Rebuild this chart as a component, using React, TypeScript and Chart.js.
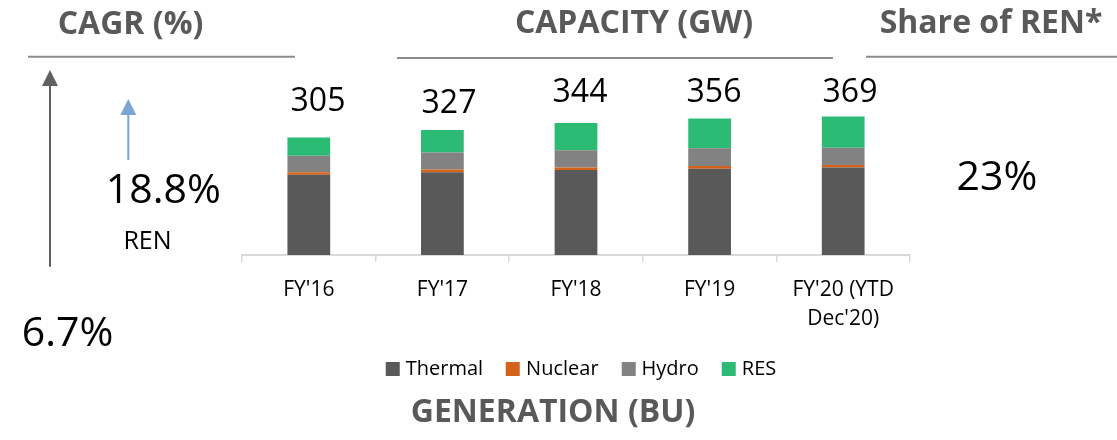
import React, { useEffect, useRef } from 'react';
import { Chart, registerables } from 'chart.js';

Chart.register(...registerables);

// ---- data ----
const categories: (string | string[])[] = ["FY'16", "FY'17", "FY'18", "FY'19", ["FY'20 (YTD", "Dec'20)"]];
const thermal = [208.8, 215.8, 221.3, 224.7, 227.9];
const nuclear = [6.8, 6.8, 6.8, 6.8, 6.8];
const hydro = [42.8, 44.4, 44.6, 46.5, 44.4];
const res = [47.8, 58.2, 71.0, 77.3, 81.7];
const totalLabels = ['305', '327', '344', '356', '369'];
const seriesNames = ['Thermal', 'Nuclear', 'Hydro', 'RES'];
const cagrTotal = '6.7%';
const cagrRen = '18.8%';
const renShare = '23%';

// ---- styles ----
const seriesColors = ['#595959', '#D5621A', '#828282', '#2BBB74'];
const FONT = '"Open Sans", "Noto Sans", sans-serif';
const labelPos = [
  { x: 318, y: 111 },
  { x: 449, y: 113 },
  { x: 580, y: 102 },
  { x: 714, y: 102 },
  { x: 850, y: 102 },
];

type TProps = { x: number; y: number; size: number; bold?: boolean; color?: string; align?: 'center' | 'left'; text: string };
const T = ({ x, y, size, bold, color = '#000', align = 'center', text }: TProps) => (
  <div
    style={{
      position: 'absolute',
      left: x,
      top: y - 0.888 * size,
      fontFamily: FONT,
      fontSize: size,
      fontWeight: bold ? 700 : 400,
      lineHeight: 1,
      color,
      whiteSpace: 'nowrap',
      transform: align === 'center' ? 'translateX(-50%)' : undefined,
    }}
  >
    {text}
  </div>
);

export default function App() {
  const ref = useRef<HTMLCanvasElement | null>(null);

  useEffect(() => {
    if (!ref.current) return;
    const series = [thermal, nuclear, hydro, res];
    const chart = new Chart(ref.current, {
      type: 'bar',
      data: {
        labels: categories as any,
        datasets: series.map((d, i) => ({
          label: seriesNames[i],
          data: d,
          backgroundColor: seriesColors[i],
          borderWidth: 0,
          barPercentage: 0.32,
          categoryPercentage: 1.0,
        })),
      },
      options: {
        animation: false,
        responsive: false,
        maintainAspectRatio: false,
        devicePixelRatio: 1,
        layout: { padding: { left: 242, right: 207, top: 63, bottom: 0 } },
        plugins: { legend: { display: false }, tooltip: { enabled: false } },
        scales: {
          x: {
            stacked: true,
            offset: true,
            grid: {
              display: true,
              drawOnChartArea: false,
              drawTicks: true,
              tickLength: 7,
              color: '#d9d9d9',
              lineWidth: 1.5,
              offset: true,
            },
            border: { display: true, color: '#d9d9d9', width: 2 },
            ticks: {
              color: '#000',
              font: { family: FONT, size: 21, lineHeight: 1.38 },
              padding: 14,
              maxRotation: 0,
              autoSkip: false,
            },
            afterFit: (s: any) => {
              s.height = 185;
            },
          },
          y: { stacked: true, display: false, min: 0, max: 500 },
        },
      },
    });
    return () => chart.destroy();
  }, []);

  return (
    <div style={{ position: 'absolute', left: 0, top: 0, width: 1117, height: 440, background: '#fff', overflow: 'hidden' }}>
      <canvas ref={ref} width={1117} height={440} style={{ position: 'absolute', left: 0, top: 0, width: 1117, height: 440 }} />

      <svg width={1117} height={440} style={{ position: 'absolute', left: 0, top: 0, pointerEvents: 'none' }}>
        {/* heading underlines */}
        <line x1={28} y1={56.7} x2={295} y2={56.7} stroke="#8c8c8c" strokeWidth={2} />
        <line x1={397} y1={58} x2={833} y2={58} stroke="#8c8c8c" strokeWidth={2} />
        <line x1={866} y1={56.7} x2={1117} y2={56.7} stroke="#8c8c8c" strokeWidth={2} />
        {/* grey arrow */}
        <line x1={50} y1={266.7} x2={50} y2={84} stroke="#606060" strokeWidth={2} />
        <polygon points="50,70 42,86 58,86" fill="#606060" />
        {/* blue arrow */}
        <line x1={128.3} y1={160} x2={128.3} y2={113} stroke="#7CA5D5" strokeWidth={2} />
        <polygon points="128.3,99 120.3,115 136.3,115" fill="#7CA5D5" />
      </svg>

      <T x={130.5} y={34.3} size={32} bold color="#595959" text="CAGR (%)" />
      <T x={634} y={33.5} size={32} bold color="#595959" text="CAPACITY (GW)" />
      <T x={991} y={33.5} size={32} bold color="#595959" text="Share of REN*" />
      <T x={553} y={422.3} size={32} bold color="#595959" text="GENERATION (BU)" />

      {totalLabels.map((t, i) => (
        <T key={i} x={labelPos[i].x} y={labelPos[i].y} size={32} text={t} />
      ))}

      <T x={163.3} y={203.3} size={41} text={cagrRen} />
      <T x={147.5} y={249.3} size={25} text="REN" />
      <T x={67.5} y={346.7} size={41} text={cagrTotal} />
      <T x={997} y={190.7} size={41} text={renShare} />

      <div
        style={{
          position: 'absolute',
          left: 581,
          top: 375.7 - 0.888 * 20,
          transform: 'translateX(-50%)',
          display: 'flex',
          alignItems: 'center',
          height: 20,
          fontFamily: FONT,
          fontSize: 20,
          lineHeight: 1,
          color: '#000',
          whiteSpace: 'nowrap',
        }}
      >
        {seriesNames.map((n, i) => (
          <div key={n} style={{ display: 'flex', alignItems: 'center', marginLeft: i === 0 ? 0 : 23 }}>
            <span style={{ display: 'inline-block', width: 14, height: 14, background: seriesColors[i], marginRight: 6, marginTop: 2 }} />
            <span>{n}</span>
          </div>
        ))}
      </div>
    </div>
  );
}
